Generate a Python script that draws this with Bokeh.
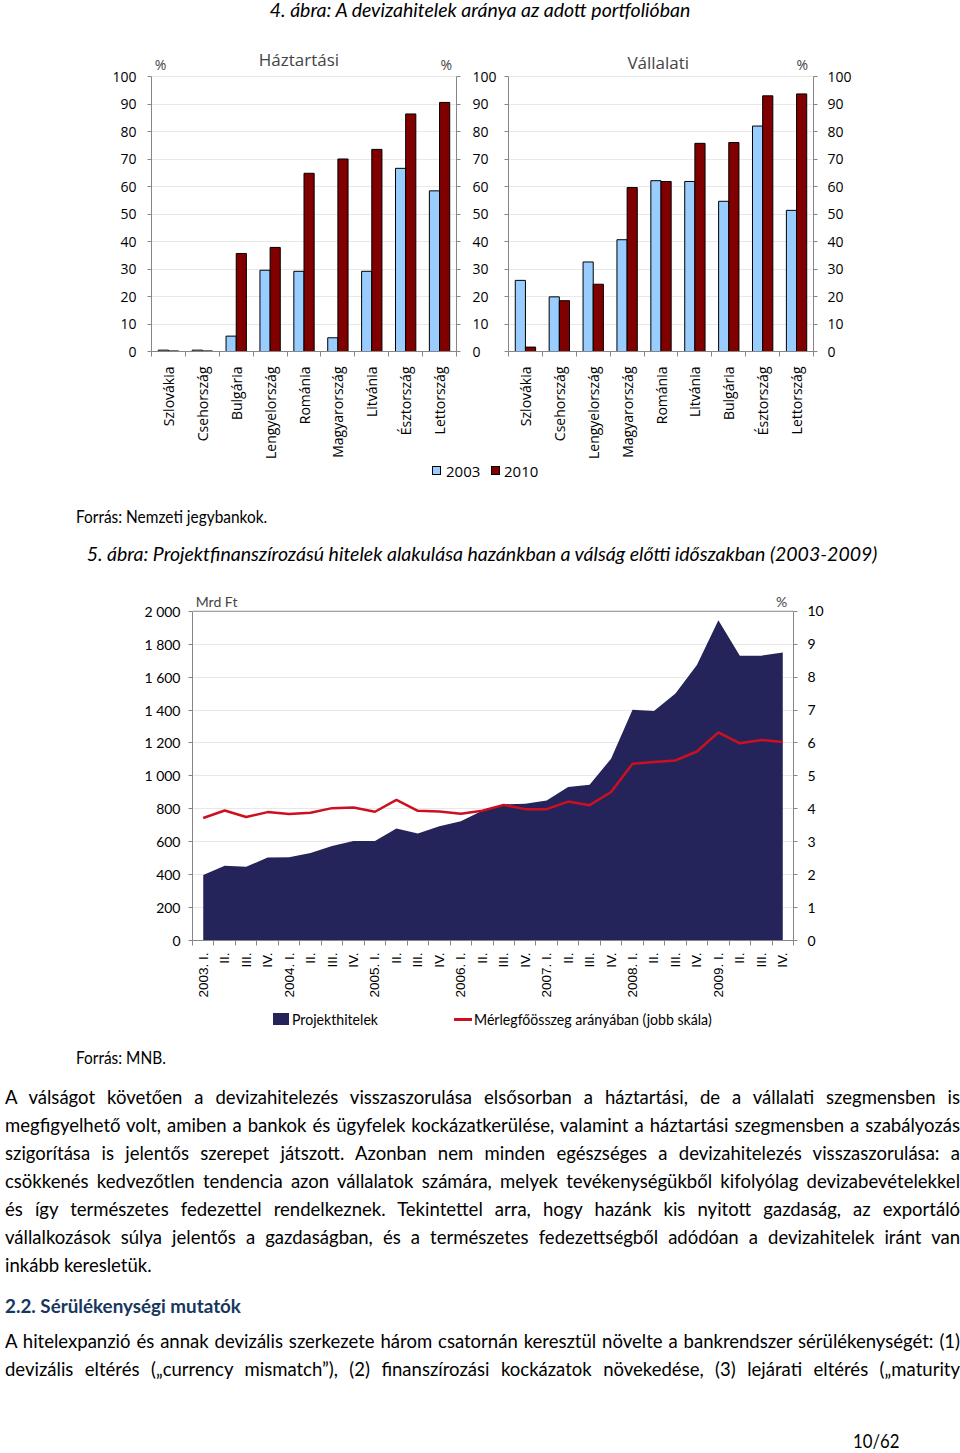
import numpy as np
from bokeh.plotting import figure
from bokeh.models import (Range1d, LinearAxis, FixedTicker, Label, Div, CustomJSTickFormatter, Span)
from bokeh.layouts import column, row
from bokeh.embed import file_html
from bokeh.resources import INLINE

# ---------------- data: 4. ábra ----------------
hh_countries = ["Szlovákia", "Csehország", "Bulgária", "Lengyelország", "Románia",
                "Magyarország", "Litvánia", "Észtország", "Lettország"]
hh_2003 = [0.5, 0.5, 5.6, 29.6, 29.2, 5.0, 29.2, 66.7, 58.5]
hh_2010 = [0.2, 0.2, 35.7, 37.9, 64.9, 70.1, 73.6, 86.5, 90.7]

corp_countries = ["Szlovákia", "Csehország", "Lengyelország", "Magyarország", "Románia",
                  "Litvánia", "Bulgária", "Észtország", "Lettország"]
corp_2003 = [25.9, 19.9, 32.6, 40.7, 62.2, 61.9, 54.7, 82.1, 51.4]
corp_2010 = [1.6, 18.5, 24.5, 59.7, 61.9, 75.8, 76.1, 93.1, 93.8]

pct_ticks = list(range(0, 101, 10))
series_labels = ["2003", "2010"]

# ---------------- data: 5. ábra ----------------
quarters = ["2003. I.", "II.", "III.", "IV.", "2004. I.", "II.", "III.", "IV.",
            "2005. I.", "II.", "III.", "IV.", "2006. I.", "II.", "III.", "IV.",
            "2007. I.", "II.", "III.", "IV.", "2008. I.", "II.", "III.", "IV.",
            "2009. I.", "II.", "III.", "IV."]
project_loans = [398, 454, 448, 504, 506, 532, 574, 604, 604, 680, 650, 694, 724, 788,
                 828, 830, 850, 932, 946, 1104, 1402, 1394, 1500, 1674, 1946, 1730, 1730, 1750]
ratio_pct = [3.72, 3.95, 3.75, 3.90, 3.84, 3.88, 4.02, 4.04, 3.91, 4.27, 3.94, 3.92, 3.85, 3.94,
             4.12, 3.99, 3.99, 4.22, 4.11, 4.51, 5.37, 5.42, 5.47, 5.74, 6.32, 5.99, 6.09, 6.03]
mrd_ticks = list(range(0, 2001, 200))
pct2_ticks = list(range(0, 11))
series2_labels = ["Projekthitelek", "Mérlegfőösszeg arányában (jobb skála)"]

# ---------------- texts ----------------
title4 = "4. ábra: A devizahitelek aránya az adott portfolióban"
source4 = "Forrás: Nemzeti jegybankok."
title5 = "5. ábra: Projektfinanszírozású hitelek alakulása hazánkban a válság előtti időszakban (2003-2009)"
source5 = "Forrás: MNB."
para1_lines = [
    "A válságot követően a devizahitelezés visszaszorulása elsősorban a háztartási, de a vállalati szegmensben is",
    "megfigyelhető volt, amiben a bankok és ügyfelek kockázatkerülése, valamint a háztartási szegmensben a szabályozás",
    "szigorítása is jelentős szerepet játszott. Azonban nem minden egészséges a devizahitelezés visszaszorulása: a",
    "csökkenés kedvezőtlen tendencia azon vállalatok számára, melyek tevékenységükből kifolyólag devizabevételekkel",
    "és így természetes fedezettel rendelkeznek. Tekintettel arra, hogy hazánk kis nyitott gazdaság, az exportáló",
    "vállalkozások súlya jelentős a gazdaságban, és a természetes fedezettségből adódóan a devizahitelek iránt van",
    "inkább keresletük.",
]
heading = "2.2. Sérülékenységi mutatók"
para2_lines = [
    "A hitelexpanzió és annak devizális szerkezete három csatornán keresztül növelte a bankrendszer sérülékenységét: (1)",
    "devizális eltérés (\u201ecurrency mismatch\u201d), (2) finanszírozási kockázatok növekedése, (3) lejárati eltérés (\u201ematurity",
]
page_no = "10/62"

# ---------------- styles ----------------
BLUE = "#99CCFF"
DRED = "#800000"
NAVY = "#25245A"
RED = "#CC1020"
AXIS = "#868686"
GRID = "#E8E8E8"
CHART_FONT = "Open Sans"
CAL = "Lato"            # stand-in for Calibri
ARIAL = "Liberation Sans"
CSS_FONT = "'Lato','Roboto',sans-serif"
SQ = 0.95               # horizontal condensing of the Calibri stand-in in body text
SQS = 0.93              # condensing for small captions


def style_axis(ax, font, size, tick_out=4, standoff=8):
    ax.axis_line_color = AXIS
    ax.major_tick_line_color = AXIS
    ax.major_tick_out = tick_out
    ax.major_tick_in = 0
    ax.minor_tick_line_color = None
    ax.major_label_text_font = font
    ax.major_label_text_font_size = size
    ax.major_label_text_color = "black"
    ax.major_label_standoff = standoff


# geometry of 4. ábra panels (pixels)
B_TOP, B_FRAME, B_PLOT, B_BOTTOM = 25, 312, 280, 105
B_PX = B_PLOT / 100.0
B_YMAX = 100.0 * B_FRAME / B_PLOT


def bar_panel(cats, v03, v10, title, title_x, title_px, pct_xs, left_labels, width, mbl, mbr,
              left_standoff, right_standoff):
    n = len(cats)
    centers = np.arange(n) + 0.5
    p = figure(width=width, height=B_TOP + B_FRAME + B_BOTTOM, x_range=Range1d(0, n),
               y_range=Range1d(0, B_YMAX), output_backend="svg", toolbar_location=None,
               min_border_left=mbl, min_border_right=mbr, min_border_top=B_TOP,
               min_border_bottom=B_BOTTOM)
    p.vbar(x=centers - 0.15, top=v03, width=0.3, fill_color=BLUE, line_color="black", line_width=1)
    p.vbar(x=centers + 0.15, top=v10, width=0.3, fill_color=DRED, line_color="black", line_width=1)
    p.outline_line_color = None
    p.xgrid.visible = False
    p.ygrid.grid_line_color = GRID
    p.ygrid.ticker = FixedTicker(ticks=pct_ticks)

    xa = p.xaxis[0]
    xa.ticker = FixedTicker(ticks=list(centers), minor_ticks=list(range(n + 1)))
    xa.formatter = CustomJSTickFormatter(args=dict(labels=cats),
                                         code="return labels[Math.floor(tick)] || '';")
    style_axis(xa, CHART_FONT, "14px", tick_out=0, standoff=10)
    xa.major_tick_line_color = None
    xa.minor_tick_line_color = AXIS
    xa.minor_tick_out = 5
    xa.minor_tick_in = 0
    xa.major_label_orientation = np.pi / 2

    ya = p.yaxis[0]
    ya.ticker = FixedTicker(ticks=pct_ticks)
    ya.bounds = (0, 100)
    style_axis(ya, CHART_FONT, "14px", standoff=left_standoff)
    if not left_labels:
        ya.formatter = CustomJSTickFormatter(code="return '';")
        ya.major_label_standoff = 0

    ra = LinearAxis(ticker=FixedTicker(ticks=pct_ticks), bounds=(0, 100))
    style_axis(ra, CHART_FONT, "14px", standoff=right_standoff)
    p.add_layout(ra, "right")

    p.add_layout(Label(x=title_x, y=100 + title_px / B_PX, text=title, text_align="center",
                       text_baseline="middle", text_font=CHART_FONT, text_font_size="17px"))
    for px in pct_xs:
        p.add_layout(Label(x=px, y=100 + 13 / B_PX, text="%", text_align="center",
                           text_baseline="middle", text_font=CHART_FONT, text_font_size="14px"))
    return p


fig_hh = bar_panel(hh_countries, hh_2003, hh_2010, "Háztartási", 4.35, 18, [0.27, 8.7], True,
                   width=500, mbl=151, mbr=44, left_standoff=11, right_standoff=12)
fig_corp = bar_panel(corp_countries, corp_2003, corp_2010, "Vállalati", 4.42, 15, [8.67], False,
                     width=360, mbl=8, mbr=47, left_standoff=0, right_standoff=10)

# ---------------- 5. ábra ----------------
A_TOP, A_FRAME, A_PLOT, A_BOTTOM = 4, 351, 334, 55
A_PX = A_PLOT / 2000.0
n2 = len(quarters)
c2 = np.arange(n2) + 0.5
p5 = figure(width=860, height=A_TOP + A_FRAME + A_BOTTOM, x_range=Range1d(0, n2),
            y_range=Range1d(0, 2000.0 * A_FRAME / A_PLOT),
            output_backend="svg", toolbar_location=None,
            min_border_left=192, min_border_right=67, min_border_top=A_TOP,
            min_border_bottom=A_BOTTOM)
p5.extra_y_ranges = {"pct": Range1d(0, 10.0 * A_FRAME / A_PLOT)}
area = p5.varea(x=c2, y1=0, y2=project_loans, fill_color=NAVY)
line = p5.line(x=c2, y=ratio_pct, y_range_name="pct", line_color=RED, line_width=2.5)
p5.outline_line_color = None
p5.xgrid.visible = False
p5.ygrid.grid_line_color = GRID
p5.ygrid.ticker = FixedTicker(ticks=mrd_ticks[:-1])
p5.add_layout(Span(location=mrd_ticks[-1], dimension="width", line_color=AXIS, line_width=1))

la = p5.left[0]
la.ticker = FixedTicker(ticks=mrd_ticks)
la.bounds = (0, 2000)
la.formatter = CustomJSTickFormatter(
    code=r"return Math.round(tick).toString().replace(/\B(?=(\d{3})+(?!\d))/g, ' ');")
style_axis(la, CAL, "14px", standoff=8)

ra5 = LinearAxis(y_range_name="pct", ticker=FixedTicker(ticks=pct2_ticks), bounds=(0, 10))
style_axis(ra5, CAL, "14px", standoff=10)
p5.add_layout(ra5, "right")

xa5 = p5.below[0]
xa5.ticker = FixedTicker(ticks=list(c2), minor_ticks=list(range(n2 + 1)))
xa5.formatter = CustomJSTickFormatter(args=dict(labels=quarters),
                                      code="return labels[Math.floor(tick)] || '';")
style_axis(xa5, ARIAL, "13.5px", tick_out=0, standoff=7)
xa5.major_tick_line_color = None
xa5.minor_tick_line_color = AXIS
xa5.minor_tick_out = 5
xa5.minor_tick_in = 0
xa5.major_label_orientation = np.pi / 2

p5.add_layout(Label(x=0.15, y=2000 + 10 / A_PX, text="Mrd Ft", text_align="left",
                    text_baseline="middle", text_font=CAL, text_font_size="14px"))
p5.add_layout(Label(x=27.45, y=2000 + 10 / A_PX, text="%", text_align="center",
                    text_baseline="middle", text_font=CAL, text_font_size="14px"))

# ---------------- HTML text blocks ----------------
BASE = f"font-family:{CSS_FONT};color:#000;"


def abs_text(left, top, txt, size, lh=20, sq=SQS, extra=""):
    return (f'<div style="position:absolute;left:{left}px;top:{top}px;line-height:{lh}px;'
            f'font-size:{size}px;transform:scaleX({sq});transform-origin:0 0;white-space:nowrap;'
            f'{extra}">{txt}</div>')


def swatch(left, top, w, h, color, border=True):
    b = "border:1px solid #000;" if border else ""
    return (f'<div style="position:absolute;left:{left}px;top:{top}px;width:{w}px;height:{h}px;'
            f'background:{color};{b}"></div>')


d_title4 = Div(text=(f'<div style="{BASE}width:960px;height:20px;line-height:20px;text-align:center;'
                     f'font-style:italic;font-size:19.5px;white-space:nowrap;">{title4}</div>'),
               width=960, height=20, margin=0)

open_sans = "font-family:'Open Sans',sans-serif;"
d_mid = Div(text=(f'<div style="position:relative;width:960px;height:128px;{BASE}">'
                  + swatch(432, 4, 9, 9, BLUE) + abs_text(446, -1, series_labels[0], 15, sq=1, extra=open_sans)
                  + swatch(491, 4, 9, 9, DRED) + abs_text(504, -1, series_labels[1], 15, sq=1, extra=open_sans)
                  + abs_text(76, 45, source4, 16.6)
                  + f'<div style="position:absolute;left:2px;top:80px;width:960px;line-height:24px;'
                    f'text-align:center;font-style:italic;font-size:19.5px;white-space:nowrap;">{title5}</div>'
                  + '</div>'),
            width=960, height=128, margin=0)

BODY_W = 955
BOX_W = BODY_W / SQ
Y0 = 1000   # page y of the body block


def text_line(txt, top, justify=True, extra=""):
    align = "text-align:justify;text-align-last:justify;" if justify else "text-align:left;"
    return (f'<div style="position:absolute;left:5px;top:{top}px;width:{BOX_W:.1f}px;height:28px;'
            f'line-height:28px;font-size:19.5px;transform:scaleX({SQ});transform-origin:0 0;'
            f'{align}{extra}">{txt}</div>')


parts = [f'<div style="position:relative;width:960px;height:451px;overflow:hidden;{BASE}">']
# legend of 5. ábra
parts.append(swatch(273, 1013 - Y0, 16, 12, NAVY, border=False))
parts.append(abs_text(292, 1019 - Y0 - 10, series2_labels[0], 15.2))
parts.append(swatch(454, 1018 - Y0, 18, 3, RED, border=False))
parts.append(abs_text(474, 1019 - Y0 - 10, series2_labels[1], 15.2))
parts.append(abs_text(76, 1058 - Y0 - 10, source5, 16.6))
for i, t in enumerate(para1_lines):
    parts.append(text_line(t, 1097 - Y0 - 14 + 28 * i, justify=(i < len(para1_lines) - 1)))
parts.append(text_line(heading, 1306 - Y0 - 14, justify=False,
                       extra="font-weight:bold;color:#17375E;transform:scaleX(0.965);"))
for i, t in enumerate(para2_lines):
    parts.append(text_line(t, 1341 - Y0 - 14 + 28 * i))
parts.append(abs_text(853, 1441 - Y0 - 10, page_no, 19, sq=0.88))
parts.append('</div>')
d_body = Div(text="".join(parts), width=960, height=451, margin=0)

layout = column(d_title4, row(fig_hh, fig_corp), d_mid, p5, d_body, spacing=0)

with open("out.html", "w", encoding="utf-8") as f:
    f.write(file_html(layout, INLINE))
